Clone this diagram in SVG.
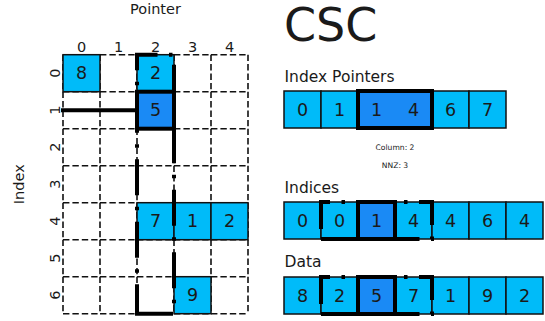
<svg xmlns="http://www.w3.org/2000/svg" width="545" height="321" viewBox="0 0 545 321">
  <style>
    text { font-family: "DejaVu Sans", "Liberation Sans", sans-serif; fill: #1a1a1a; }
    .num { font-size: 17.5px; text-anchor: middle; }
    .axis { font-size: 14.5px; text-anchor: middle; }
    .head { font-size: 15.5px; }
    .note { font-size: 7.6px; text-anchor: middle; }
    .grid { fill: none; stroke: #111; stroke-width: 1.6; stroke-dasharray: 6.4 3; }
    .box { fill: #00bbf9; stroke: #111; stroke-width: 1.5; }
    .hl { fill: none; stroke: #000; stroke-width: 4; }
    .sel { fill: #1a8af5; }
    .dd { fill: none; stroke: #000; stroke-width: 4; stroke-dasharray: 36 11.5 3.5 11.5; stroke-linejoin: miter; }
  </style>

  <!-- matrix: dashed cell edges, one subpath per edge -->
  <g id="matrix-grid">
    <path class="grid" d="
      M63,54.7h37 M100,54.7h37 M137,54.7h37 M174,54.7h37 M211,54.7h37
      M63,91.7h37 M100,91.7h37 M137,91.7h37 M174,91.7h37 M211,91.7h37
      M63,128.7h37 M100,128.7h37 M137,128.7h37 M174,128.7h37 M211,128.7h37
      M63,165.7h37 M100,165.7h37 M137,165.7h37 M174,165.7h37 M211,165.7h37
      M63,202.7h37 M100,202.7h37 M137,202.7h37 M174,202.7h37 M211,202.7h37
      M63,239.7h37 M100,239.7h37 M137,239.7h37 M174,239.7h37 M211,239.7h37
      M63,276.7h37 M100,276.7h37 M137,276.7h37 M174,276.7h37 M211,276.7h37
      M63,313.7h37 M100,313.7h37 M137,313.7h37 M174,313.7h37 M211,313.7h37
      M63,54.7v37 M63,91.7v37 M63,128.7v37 M63,165.7v37 M63,202.7v37 M63,239.7v37 M63,276.7v37
      M100,54.7v37 M100,91.7v37 M100,128.7v37 M100,165.7v37 M100,202.7v37 M100,239.7v37 M100,276.7v37
      M137,54.7v37 M137,91.7v37 M137,128.7v37 M137,165.7v37 M137,202.7v37 M137,239.7v37 M137,276.7v37
      M174,54.7v37 M174,91.7v37 M174,128.7v37 M174,165.7v37 M174,202.7v37 M174,239.7v37 M174,276.7v37
      M211,54.7v37 M211,91.7v37 M211,128.7v37 M211,165.7v37 M211,202.7v37 M211,239.7v37 M211,276.7v37
      M248,54.7v37 M248,91.7v37 M248,128.7v37 M248,165.7v37 M248,202.7v37 M248,239.7v37 M248,276.7v37"/>
  </g>

  <!-- axis titles and tick labels -->
  <g id="matrix-labels">
    <text class="axis" x="155.5" y="14">Pointer</text>
    <text class="axis" transform="translate(24,184.2) rotate(-90)">Index</text>
    <text class="axis" x="81.5" y="52">0</text>
    <text class="axis" x="118.5" y="52">1</text>
    <text class="axis" x="155.5" y="52">2</text>
    <text class="axis" x="192.5" y="52">3</text>
    <text class="axis" x="229.5" y="52">4</text>
    <text class="axis" transform="translate(59.5,73.2) rotate(-90)">0</text>
    <text class="axis" transform="translate(59.5,110.2) rotate(-90)">1</text>
    <text class="axis" transform="translate(59.5,147.2) rotate(-90)">2</text>
    <text class="axis" transform="translate(59.5,184.2) rotate(-90)">3</text>
    <text class="axis" transform="translate(59.5,221.2) rotate(-90)">4</text>
    <text class="axis" transform="translate(59.5,258.2) rotate(-90)">5</text>
    <text class="axis" transform="translate(59.5,295.2) rotate(-90)">6</text>
  </g>

  <!-- non-zero entries of the matrix -->
  <g id="matrix-values">
    <rect class="box" x="63" y="54.7" width="37" height="37"/>
    <text class="num" x="81.5" y="79.4">8</text>
    <rect class="box" x="137" y="54.7" width="37" height="37"/>
    <text class="num" x="155.5" y="79.4">2</text>
    <rect class="box" x="137" y="202.7" width="37" height="37"/>
    <text class="num" x="155.5" y="227.4">7</text>
    <rect class="box" x="174" y="202.7" width="37" height="37"/>
    <text class="num" x="192.5" y="227.4">1</text>
    <rect class="box" x="211" y="202.7" width="37" height="37"/>
    <text class="num" x="229.5" y="227.4">2</text>
    <rect class="box" x="174" y="276.7" width="37" height="37"/>
    <text class="num" x="192.5" y="301.4">9</text>
  </g>

  <!-- current entry: column 2, row 1 -->
  <g id="matrix-selection">
    <rect class="hl sel" x="137" y="91.7" width="37" height="37" stroke-width="4.5"/>
    <text class="num" x="155.5" y="116.4">5</text>
  </g>

  <!-- column and row markers -->
  <g id="connectors">
    <path class="hl" d="M61,110.2H137" stroke-width="5"/>
    <path class="dd" d="M137,313.7H174V54.7H137Z"/>
  </g>

  <text x="284" y="40.5" font-size="46">CSC</text>

  <!-- index pointer array -->
  <g id="index-pointers">
    <text class="head" x="284.5" y="82">Index Pointers</text>
    <rect class="box" x="284" y="91" width="37" height="37"/>
    <rect class="box" x="321" y="91" width="37" height="37"/>
    <rect class="box" x="432" y="91" width="37" height="37"/>
    <rect class="box" x="469" y="91" width="37" height="37"/>
    <rect class="hl sel" x="358" y="91" width="74" height="37" stroke-width="6"/>
    <text class="num" x="302.5" y="115.5">0</text>
    <text class="num" x="339.5" y="115.5">1</text>
    <text class="num" x="376.5" y="115.5">1</text>
    <text class="num" x="413.5" y="115.5">4</text>
    <text class="num" x="450.5" y="115.5">6</text>
    <text class="num" x="487.5" y="115.5">7</text>
    <text class="note" x="395" y="150">Column: 2</text>
    <text class="note" x="395" y="167.5">NNZ: 3</text>
  </g>

  <!-- row indices array -->
  <g id="indices">
    <text class="head" x="284.5" y="193">Indices</text>
    <rect class="box" x="284" y="202" width="37" height="37"/>
    <rect class="box" x="321" y="202" width="37" height="37"/>
    <rect class="box" x="395" y="202" width="37" height="37"/>
    <rect class="box" x="432" y="202" width="37" height="37"/>
    <rect class="box" x="469" y="202" width="37" height="37"/>
    <rect class="box" x="506" y="202" width="37" height="37"/>
    <rect class="hl sel" x="358" y="202" width="37" height="37"/>
    <path class="dd" d="M321,239H432V202H321Z"/>
    <text class="num" x="302.5" y="226.5">0</text>
    <text class="num" x="339.5" y="226.5">0</text>
    <text class="num" x="376.5" y="226.5">1</text>
    <text class="num" x="413.5" y="226.5">4</text>
    <text class="num" x="450.5" y="226.5">4</text>
    <text class="num" x="487.5" y="226.5">6</text>
    <text class="num" x="524.5" y="226.5">4</text>
  </g>

  <!-- data array -->
  <g id="data">
    <text class="head" x="284.5" y="267">Data</text>
    <rect class="box" x="284" y="277" width="37" height="37"/>
    <rect class="box" x="321" y="277" width="37" height="37"/>
    <rect class="box" x="395" y="277" width="37" height="37"/>
    <rect class="box" x="432" y="277" width="37" height="37"/>
    <rect class="box" x="469" y="277" width="37" height="37"/>
    <rect class="box" x="506" y="277" width="37" height="37"/>
    <rect class="hl sel" x="358" y="277" width="37" height="37"/>
    <path class="dd" d="M321,314H432V277H321Z"/>
    <text class="num" x="302.5" y="301.5">8</text>
    <text class="num" x="339.5" y="301.5">2</text>
    <text class="num" x="376.5" y="301.5">5</text>
    <text class="num" x="413.5" y="301.5">7</text>
    <text class="num" x="450.5" y="301.5">1</text>
    <text class="num" x="487.5" y="301.5">9</text>
    <text class="num" x="524.5" y="301.5">2</text>
  </g>
</svg>
